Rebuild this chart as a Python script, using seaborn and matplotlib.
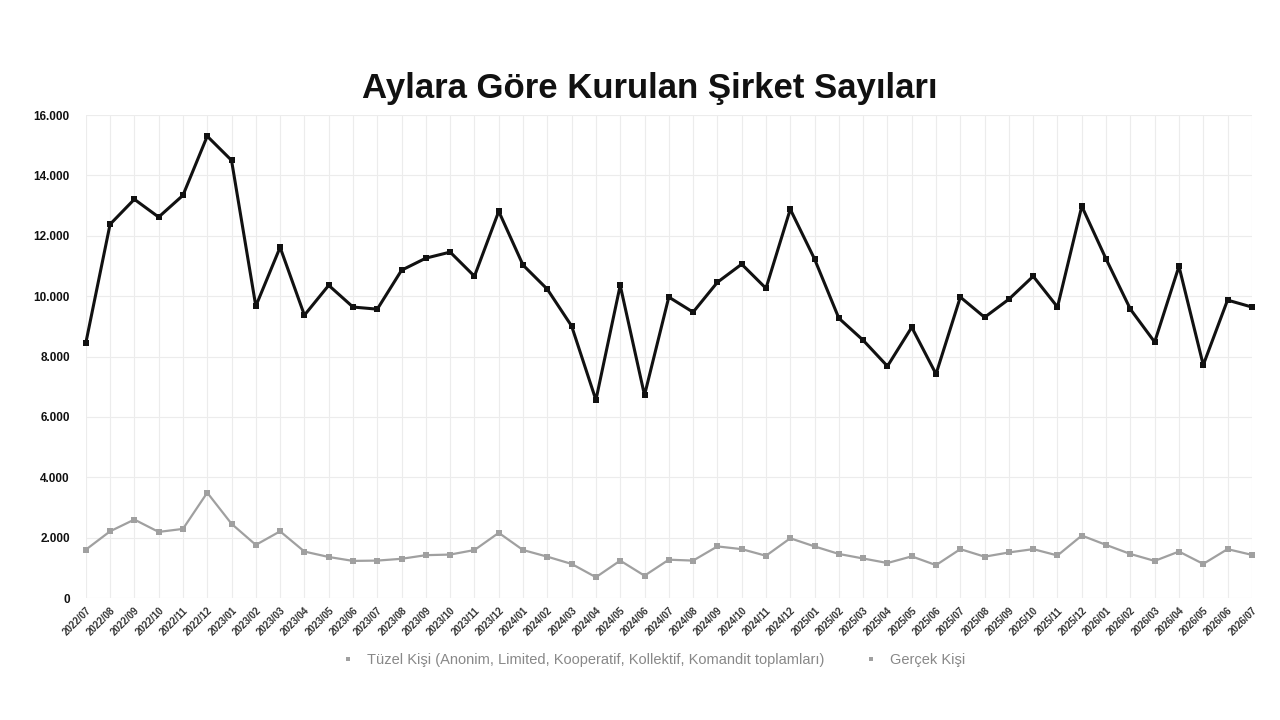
import pandas as pd
import numpy as np
import seaborn as sns
import matplotlib.pyplot as plt
from matplotlib.ticker import FuncFormatter

# months 2022/07 .. 2026/07
months = [p.strftime("%Y/%m") for p in pd.period_range("2022-07", "2026-07", freq="M")]

tuzel = [8440, 12380, 13210, 12620, 13340, 15300, 14500, 9670, 11620, 9370,
         10360, 9640, 9570, 10860, 11260, 11460, 10660, 12810, 11030, 10230,
         9010, 6560, 10360, 6720, 9970, 9470, 10460, 11060, 10260, 12880,
         11230, 9270, 8540, 7680, 8970, 7420, 9970, 9300, 9900, 10660,
         9640, 12980, 11230, 9570, 8480, 10990, 7720, 9870, 9640]

gercek = [1600, 2210, 2600, 2190, 2290, 3490, 2460, 1760, 2210, 1540,
          1360, 1230, 1240, 1300, 1420, 1440, 1590, 2160, 1590, 1370,
          1130, 690, 1240, 740, 1270, 1240, 1710, 1620, 1400, 1980,
          1710, 1460, 1310, 1160, 1380, 1090, 1620, 1370, 1510, 1620,
          1410, 2070, 1760, 1460, 1230, 1540, 1130, 1620, 1430]

label_tuzel = "Tüzel Kişi (Anonim, Limited, Kooperatif, Kollektif, Komandit toplamları)"
label_gercek = "Gerçek Kişi"

df = pd.DataFrame({"idx": np.arange(len(months)), "ay": months,
                   "tuzel": tuzel, "gercek": gercek})

sns.set_style("whitegrid", {"grid.color": "#ececec", "axes.edgecolor": "#ececec"})
plt.rcParams["font.family"] = ["Liberation Sans", "DejaVu Sans"]

fig = plt.figure(figsize=(12.8, 7.2), dpi=100)
ax = fig.add_axes([0.067, 0.1694, 0.911, 0.6708])

sns.lineplot(data=df, x="idx", y="tuzel", ax=ax, color="#111111", linewidth=2.2,
             marker="s", markersize=3.8, markeredgewidth=0, label=label_tuzel, clip_on=False)
sns.lineplot(data=df, x="idx", y="gercek", ax=ax, color="#a0a0a0", linewidth=1.6,
             marker="s", markersize=3.8, markeredgewidth=0, label=label_gercek, clip_on=False)

ax.set_xlim(0, len(months) - 1)
ax.set_ylim(0, 16000)
ax.set_yticks(range(0, 16001, 2000))
ax.yaxis.set_major_formatter(FuncFormatter(lambda v, p: f"{v:,.0f}".replace(",", ".")))
ax.set_xticks(df.idx)
ax.set_xticklabels(months, rotation=45, ha="right", rotation_mode="anchor",
                   fontsize=7, color="#333333", fontweight="bold")
ax.tick_params(axis="y", labelsize=8.5, labelcolor="#111111", pad=8)
for t in ax.get_yticklabels():
    t.set_fontweight("bold")
ax.tick_params(axis="x", pad=2)
ax.set_xlabel("")
ax.set_ylabel("")
for s in ax.spines.values():
    s.set_visible(False)

fig.text(0.508, 0.877, "Aylara Göre Kurulan Şirket Sayıları", ha="center", va="center",
         fontsize=25, fontweight="bold", color="#111111")

leg = ax.legend(loc="center", bbox_to_anchor=(0.511, 0.083), bbox_transform=fig.transFigure,
                ncol=2, frameon=False, fontsize=10.5, handlelength=0.8, columnspacing=2.8,
                handletextpad=0.9)
for h in leg.legend_handles:
    h.set_linestyle("none")
    h.set_color("#a0a0a0")
    h.set_markersize(3.5)
for t in leg.get_texts():
    t.set_color("#888888")

fig.savefig("out.png", dpi=100)
